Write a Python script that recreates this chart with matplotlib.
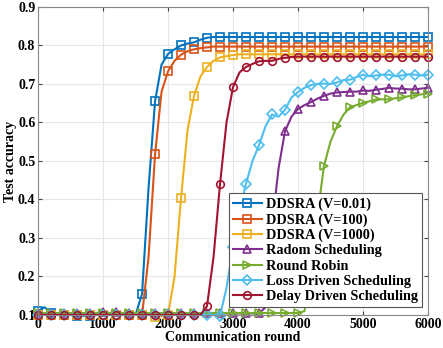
import numpy as np
import matplotlib
matplotlib.use('Agg')
import matplotlib.pyplot as plt

plt.rcParams['font.family'] = ['Liberation Serif', 'DejaVu Serif']
plt.rcParams['font.weight'] = 'bold'

rounds = np.arange(0, 6001, 100)

# test accuracy, one value every 100 rounds
ddsra_001 = [0.11, 0.12, 0.105, 0.10, 0.10, 0.10, 0.097, 0.098, 0.097, 0.10,
             0.10, 0.10, 0.10, 0.10, 0.10, 0.10, 0.155, 0.43, 0.655, 0.75,
             0.778, 0.79, 0.80, 0.805, 0.808, 0.815, 0.82, 0.822, 0.822, 0.822,
             0.822, 0.822, 0.822, 0.822, 0.822, 0.822, 0.822, 0.822, 0.822, 0.822,
             0.822, 0.822, 0.822, 0.822, 0.822, 0.822, 0.822, 0.822, 0.822, 0.822,
             0.822, 0.822, 0.822, 0.822, 0.822, 0.822, 0.822, 0.822, 0.822, 0.822,
             0.822]
ddsra_100 = [0.10, 0.102, 0.10, 0.10, 0.10, 0.10, 0.10, 0.10, 0.10, 0.10,
             0.10, 0.10, 0.10, 0.10, 0.10, 0.10, 0.10, 0.25, 0.517, 0.68,
             0.733, 0.76, 0.776, 0.785, 0.79, 0.793, 0.795, 0.797, 0.797, 0.797,
             0.797, 0.797, 0.797, 0.797, 0.797, 0.797, 0.797, 0.797, 0.797, 0.797,
             0.797, 0.797, 0.797, 0.797, 0.797, 0.797, 0.797, 0.797, 0.797, 0.797,
             0.797, 0.797, 0.797, 0.797, 0.797, 0.797, 0.797, 0.797, 0.797, 0.797,
             0.797]
ddsra_1000 = [0.10, 0.10, 0.10, 0.10, 0.10, 0.10, 0.10, 0.10, 0.10, 0.10,
              0.10, 0.10, 0.10, 0.10, 0.10, 0.10, 0.10, 0.10, 0.095, 0.097,
              0.10, 0.20, 0.404, 0.58, 0.669, 0.72, 0.744, 0.76, 0.769, 0.772,
              0.775, 0.777, 0.777, 0.777, 0.777, 0.777, 0.777, 0.777, 0.777, 0.777,
              0.777, 0.777, 0.777, 0.777, 0.777, 0.777, 0.777, 0.777, 0.777, 0.777,
              0.777, 0.777, 0.777, 0.777, 0.777, 0.777, 0.777, 0.777, 0.777, 0.777,
              0.777]
radom = [0.105, 0.105, 0.104, 0.105, 0.105, 0.104, 0.104, 0.105, 0.105, 0.105,
         0.108, 0.105, 0.108, 0.105, 0.104, 0.104, 0.104, 0.104, 0.104, 0.104,
         0.104, 0.104, 0.104, 0.104, 0.104, 0.104, 0.104, 0.104, 0.104, 0.104,
         0.104, 0.104, 0.104, 0.104, 0.104, 0.12, 0.33, 0.48, 0.577, 0.615,
         0.635, 0.645, 0.653, 0.662, 0.669, 0.675, 0.678, 0.679, 0.68, 0.68,
         0.683, 0.682, 0.685, 0.687, 0.69, 0.688, 0.688, 0.686, 0.686, 0.688,
         0.69]
round_robin = [0.105, 0.105, 0.105, 0.105, 0.105, 0.105, 0.105, 0.105, 0.105, 0.105,
               0.105, 0.105, 0.105, 0.105, 0.105, 0.105, 0.105, 0.105, 0.105, 0.105,
               0.105, 0.105, 0.105, 0.105, 0.105, 0.105, 0.105, 0.105, 0.105, 0.105,
               0.105, 0.105, 0.105, 0.105, 0.105, 0.105, 0.105, 0.105, 0.105, 0.105,
               0.105, 0.11, 0.20, 0.36, 0.487, 0.55, 0.59, 0.62, 0.64, 0.645,
               0.651, 0.655, 0.66, 0.66, 0.66, 0.663, 0.665, 0.668, 0.671, 0.673,
               0.675]
loss_driven = [0.10, 0.10, 0.10, 0.10, 0.10, 0.10, 0.10, 0.10, 0.10, 0.10,
               0.10, 0.10, 0.10, 0.10, 0.10, 0.10, 0.10, 0.10, 0.10, 0.10,
               0.10, 0.10, 0.10, 0.10, 0.10, 0.10, 0.10, 0.10, 0.098, 0.17,
               0.277, 0.37, 0.441, 0.50, 0.541, 0.59, 0.621, 0.615, 0.633, 0.665,
               0.679, 0.69, 0.697, 0.70, 0.701, 0.70, 0.704, 0.71, 0.711, 0.718,
               0.724, 0.72, 0.722, 0.724, 0.724, 0.72, 0.722, 0.725, 0.724, 0.722,
               0.724]
delay_driven = [0.10, 0.10, 0.10, 0.10, 0.10, 0.10, 0.10, 0.10, 0.10, 0.10,
                0.10, 0.10, 0.10, 0.10, 0.10, 0.10, 0.10, 0.10, 0.10, 0.10,
                0.10, 0.10, 0.10, 0.10, 0.10, 0.10, 0.123, 0.25, 0.44, 0.60,
                0.692, 0.73, 0.744, 0.752, 0.759, 0.76, 0.76, 0.765, 0.768, 0.77,
                0.771, 0.771, 0.771, 0.771, 0.771, 0.771, 0.771, 0.771, 0.771, 0.771,
                0.771, 0.771, 0.771, 0.771, 0.771, 0.771, 0.771, 0.771, 0.771, 0.771,
                0.771]

series = [
    ('DDSRA (V=0.01)', ddsra_001, '#0072BD', 's'),
    ('DDSRA (V=100)', ddsra_100, '#D95319', 's'),
    ('DDSRA (V=1000)', ddsra_1000, '#EDB120', 's'),
    ('Radom Scheduling', radom, '#7E2F8E', '^'),
    ('Round Robin', round_robin, '#77AC30', '>'),
    ('Loss Driven Scheduling', loss_driven, '#4DBEEE', 'D'),
    ('Delay Driven Scheduling', delay_driven, '#A2142F', 'o'),
]

fig = plt.figure(figsize=(4.43, 3.48), dpi=100)
ax = fig.add_axes([0.086, 0.095, 0.880, 0.885])

for label, vals, col, mk in series:
    ms = 5.5 if mk != 'D' else 4.6
    ax.plot(rounds, vals, color=col, lw=1.5, marker=mk, ms=ms, mfc='none',
            mew=1.2, markevery=2, label=label, clip_on=False)

ax.set_xlim(0, 6000)
ax.set_ylim(0.1, 0.9)
ax.set_xticks(np.arange(0, 6001, 1000))
ax.set_yticks(np.arange(0.1, 0.91, 0.1))
ax.set_yticklabels(['%.1f' % v for v in np.arange(0.1, 0.91, 0.1)])
ax.grid(True, color='#e6e6e6', lw=0.8)
ax.set_axisbelow(True)
ax.tick_params(direction='in', top=True, right=True, labelsize=10, length=3,
               color='#444444', pad=2)
for sp in ax.spines.values():
    sp.set_color('#888888')
    sp.set_linewidth(0.8)
    sp.set_zorder(3)

ax.set_xlabel('Communication round', fontsize=10, fontweight='bold', labelpad=0)
ax.set_ylabel('Test accuracy', fontsize=10, fontweight='bold', labelpad=1)

leg = ax.legend(loc='lower right', bbox_to_anchor=(0.985, 0.025),
                prop={'weight': 'bold', 'size': 10.3}, handlelength=2.0,
                handletextpad=0.3, labelspacing=0.15, borderpad=0.3,
                borderaxespad=0, fancybox=False, framealpha=1, edgecolor='#555555')
leg.get_frame().set_linewidth(0.8)
leg.set_zorder(5)

fig.savefig('out.png', dpi=100)
